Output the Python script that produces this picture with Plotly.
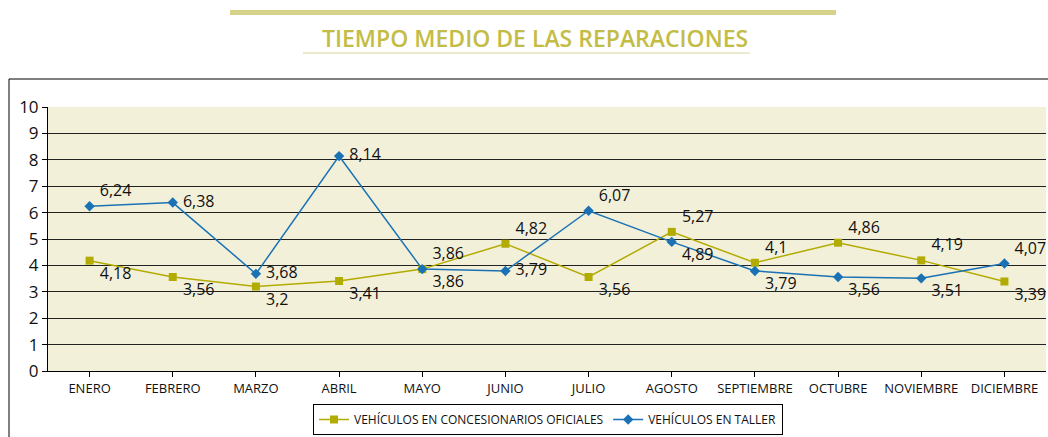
import plotly.graph_objects as go

months = ["ENERO", "FEBRERO", "MARZO", "ABRIL", "MAYO", "JUNIO", "JULIO",
          "AGOSTO", "SEPTIEMBRE", "OCTUBRE", "NOVIEMBRE", "DICIEMBRE"]
concesionarios = [4.18, 3.56, 3.2, 3.41, 3.86, 4.82, 3.56, 5.27, 4.1, 4.86, 4.19, 3.39]
taller = [6.24, 6.38, 3.68, 8.14, 3.86, 3.79, 6.07, 4.89, 3.79, 3.56, 3.51, 4.07]
conc_pos = ["bottom right", "bottom right", "bottom right", "bottom right", "top right",
            "top right", "bottom right", "top right", "top right", "top right",
            "top right", "bottom right"]
tall_pos = ["top right", "middle right", "middle right", "middle right", "bottom right",
            "middle right", "top right", "bottom right", "bottom right", "bottom right",
            "bottom right", "top right"]

def fmt(v):
    return ("%g" % v).replace(".", ",")

GOLD = "#B2AB00"
BLUE = "#1A72B5"
FONT = "Open Sans"

fig = go.Figure()
fig.add_trace(go.Scatter(
    x=months, y=concesionarios, mode="lines+markers+text",
    name="VEHÍCULOS EN CONCESIONARIOS OFICIALES",
    line=dict(color=GOLD, width=1.5),
    marker=dict(symbol="square", size=8, color=GOLD),
    text=[" " + fmt(v) for v in concesionarios], textposition=conc_pos,
    textfont=dict(family=FONT, size=16, color="#111111"),
    cliponaxis=False,
))
fig.add_trace(go.Scatter(
    x=months, y=taller, mode="lines+markers+text",
    name="VEHÍCULOS EN TALLER",
    line=dict(color=BLUE, width=1.5),
    marker=dict(symbol="diamond", size=8, color=BLUE),
    text=[" " + fmt(v) for v in taller], textposition=tall_pos,
    textfont=dict(family=FONT, size=16, color="#111111"),
    cliponaxis=False,
))

W, H = 1048, 437
L, R, T, B = 48, 2, 107, 66
pw, ph = W - L - R, H - T - B

def px(x):
    return (x - L) / pw

def py(y):
    return (H - B - y) / ph

shapes = [
    dict(type="rect", xref="paper", yref="paper", x0=px(9), x1=px(1060), y0=py(450), y1=py(79),
         line=dict(color="#000000", width=1), fillcolor="rgba(0,0,0,0)", layer="below"),
    dict(type="rect", xref="paper", yref="paper", x0=px(230), x1=px(836), y0=py(15), y1=py(10),
         line=dict(width=0), fillcolor="#D6D28A"),
    dict(type="line", xref="paper", yref="paper", x0=px(303), x1=px(750), y0=py(53), y1=py(53),
         line=dict(color="#D9D69A", width=1)),
]

fig.update_layout(
    width=W, height=H,
    margin=dict(l=L, r=R, t=T, b=B),
    paper_bgcolor="#FFFFFF",
    plot_bgcolor="#F3F0DA",
    font=dict(family=FONT, color="#111111"),
    showlegend=True,
    legend=dict(orientation="h", x=px(548), xanchor="center", y=py(435), yanchor="bottom",
                bordercolor="#000000", borderwidth=1, bgcolor="#FFFFFF",
                font=dict(family=FONT, size=12, color="#111111"),
                itemwidth=30, tracegroupgap=0),
    shapes=shapes,
    annotations=[dict(text="TIEMPO MEDIO DE LAS REPARACIONES", xref="paper", yref="paper",
                      x=px(535), y=py(38), xanchor="center", yanchor="middle", showarrow=False,
                      font=dict(family=FONT, size=23, color="#C3BC45", weight=600))],
)
fig.update_xaxes(type="category", showgrid=False, showline=True, linecolor="#000000",
                 ticks="outside", ticklen=5, tickcolor="#000000",
                 tickfont=dict(family=FONT, size=13, color="#111111"),
                 range=[-0.5, 11.5])
fig.update_yaxes(range=[0, 10], dtick=1, showgrid=True, gridcolor="#222222", gridwidth=1,
                 showline=True, linecolor="#000000", ticks="outside", ticklen=5,
                 tickcolor="#000000", tickfont=dict(family=FONT, size=17, color="#111111"),
                 zeroline=False)

fig.write_html(
    "out.html",
    config={"displayModeBar": False},
    post_script="document.body.style.margin='0';document.documentElement.style.overflow='hidden';document.body.style.overflow='hidden';",
)
